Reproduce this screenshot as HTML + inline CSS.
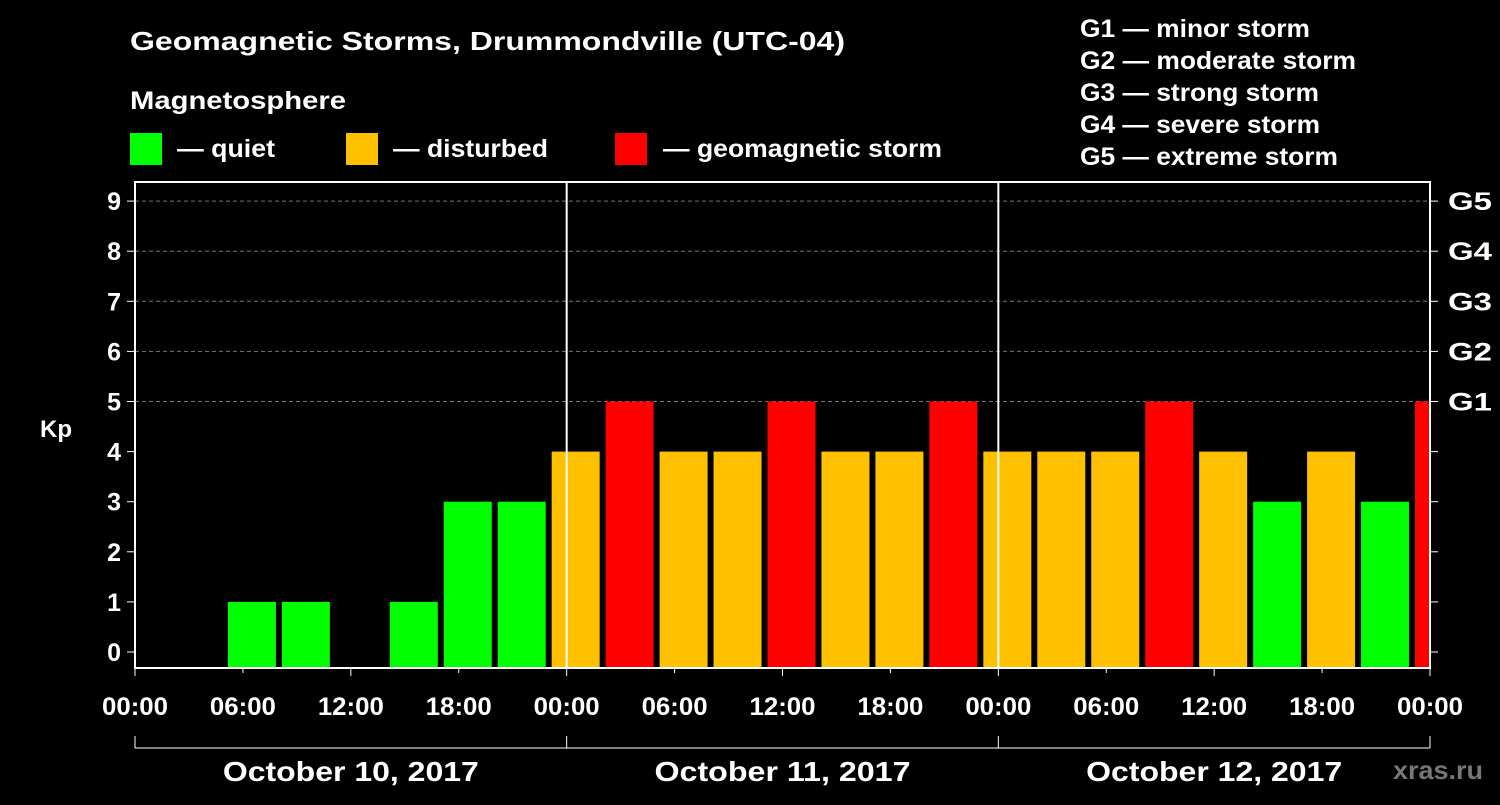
<!DOCTYPE html>
<html><head><meta charset="utf-8"><style>
body{margin:0;background:#000;width:1500px;height:800px;overflow:hidden}
svg text{font-family:"Liberation Sans",sans-serif;font-weight:bold;fill:#fff}
</style></head><body>
<svg id="c" width="1500" height="800" xmlns="http://www.w3.org/2000/svg">
<text x="130" y="50" font-size="26" textLength="715" lengthAdjust="spacingAndGlyphs">Geomagnetic Storms, Drummondville (UTC-04)</text>
<text x="130" y="109" font-size="25" textLength="216" lengthAdjust="spacingAndGlyphs">Magnetosphere</text>
<g><rect x="130" y="133" width="32" height="32" fill="#00ff00"/><text x="177" y="157" font-size="25" textLength="98" lengthAdjust="spacingAndGlyphs">— quiet</text></g>
<g><rect x="346" y="133" width="32" height="32" fill="#ffc000"/><text x="393" y="157" font-size="25" textLength="155" lengthAdjust="spacingAndGlyphs">— disturbed</text></g>
<g><rect x="615" y="133" width="32" height="32" fill="#ff0000"/><text x="663" y="157" font-size="25" textLength="279" lengthAdjust="spacingAndGlyphs">— geomagnetic storm</text></g>
<g font-size="25">
<text x="1080" y="37" textLength="230" lengthAdjust="spacingAndGlyphs">G1 — minor storm</text><text x="1080" y="69" textLength="276" lengthAdjust="spacingAndGlyphs">G2 — moderate storm</text><text x="1080" y="101" textLength="239" lengthAdjust="spacingAndGlyphs">G3 — strong storm</text><text x="1080" y="133" textLength="240" lengthAdjust="spacingAndGlyphs">G4 — severe storm</text><text x="1080" y="165" textLength="258" lengthAdjust="spacingAndGlyphs">G5 — extreme storm</text></g>
<text x="40" y="437" font-size="24">Kp</text>
<text x="1393" y="779" font-size="26" textLength="90" lengthAdjust="spacingAndGlyphs" style="fill:#777">xras.ru</text>
<g id="grid"></g><g id="bars"></g><g id="axes"></g>
</svg>
<script>
const values=[0,0,1,1,0,1,3,3,4,5,4,4,5,4,4,5,4,4,4,5,4,3,4,3,5];
const yTicks=[0,1,2,3,4,5,6,7,8,9];
const gLabels=["G1","G2","G3","G4","G5"];
const xLabels=["00:00","06:00","12:00","18:00","00:00","06:00","12:00","18:00","00:00","06:00","12:00","18:00","00:00","06:00","12:00","18:00","00:00"];
const days=["October 10, 2017","October 11, 2017","October 12, 2017"];
const NS="http://www.w3.org/2000/svg";
const L=135,R=1430,T=182,B=668;
const y=v=>652-v*50.1;
const xh=h=>L+h*(R-L)/72;
function mk(p,t,a){const e=document.createElementNS(NS,t);for(const k in a)e.setAttribute(k,a[k]);p.appendChild(e);return e;}
const grid=document.getElementById('grid'),bars=document.getElementById('bars'),axes=document.getElementById('axes');
for(let v=5;v<=9;v++){const l=mk(grid,'line',{x1:L,x2:R,y1:y(v),y2:y(v),stroke:'#777','stroke-dasharray':'4,3'});

}
mk(bars,'clipPath',{id:'cp'});mk(document.getElementById('cp'),'rect',{x:L,y:T,width:R-L,height:B-T});
bars.setAttribute('clip-path','url(#cp)');
values.forEach((v,k)=>{if(v<=0)return;const c=v>=5?'#ff0000':v>=4?'#ffc000':'#00ff00';const cx=xh(k*3)+9;
const r=mk(bars,'rect',{x:cx-24,y:y(v),width:48,height:B-y(v),fill:c});

});
const fr=mk(axes,'rect',{x:L,y:T,width:R-L,height:B-T,fill:'none',stroke:'#fff','stroke-width':2});


[24,48].forEach(h=>mk(axes,'line',{x1:xh(h),x2:xh(h),y1:T,y2:B,stroke:'#fff','stroke-width':2}));
yTicks.forEach(v=>{mk(axes,'line',{x1:L-8,x2:L,y1:y(v),y2:y(v),stroke:'#fff'});mk(axes,'line',{x1:R,x2:R+8,y1:y(v),y2:y(v),stroke:'#fff'});
const t=mk(axes,'text',{x:L-14,y:y(v)+9,'font-size':25,'text-anchor':'end'});t.textContent=v;

});
gLabels.forEach((g,i)=>{const t=mk(axes,'text',{x:R+18,y:y(5+i)+9,'font-size':25,textLength:44,lengthAdjust:'spacingAndGlyphs'});t.textContent=g;

});
xLabels.forEach((s,i)=>{const x=xh(i*6);if(i%2==0)mk(axes,'line',{x1:x,x2:x,y1:B,y2:B+8,stroke:'#fff'});else mk(axes,'line',{x1:x,x2:x,y1:B,y2:B+5,stroke:'#fff'});
const t=mk(axes,'text',{x:x,y:715,'font-size':25,'text-anchor':'middle',textLength:66,lengthAdjust:'spacingAndGlyphs'});t.textContent=s;

});
mk(axes,'line',{x1:L,x2:R,y1:748,y2:748,stroke:'#fff'});
[0,24,48,72].forEach(h=>mk(axes,'line',{x1:xh(h),x2:xh(h),y1:736,y2:748,stroke:'#fff'}));
days.forEach((d,i)=>{const t=mk(axes,'text',{x:xh(i*24+12),y:781,'font-size':28,'text-anchor':'middle',textLength:256,lengthAdjust:'spacingAndGlyphs'});t.textContent=d;

});
</script>
</body></html>
